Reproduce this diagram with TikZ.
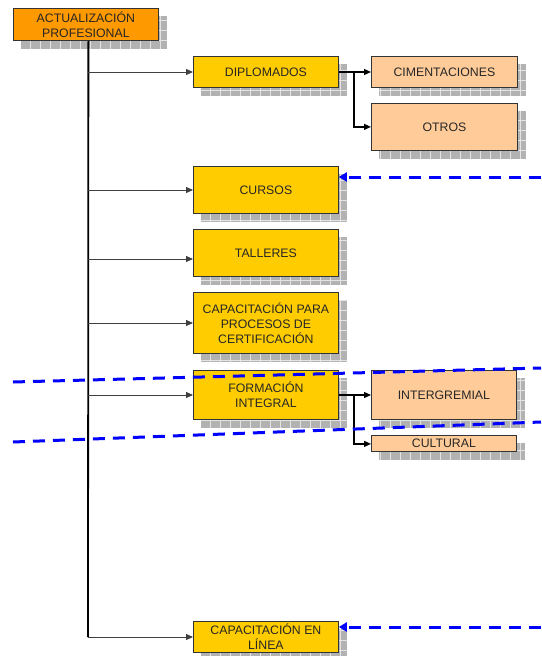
\documentclass[tikz,border=0pt]{standalone}
\usepackage{fontspec}
\setmainfont{Liberation Sans}
\usetikzlibrary{arrows.meta}
\pgfdeclarelayer{background}
\pgfsetlayers{background,main}
\definecolor{orangeF}{RGB}{255,153,0}
\definecolor{goldF}{RGB}{255,204,0}
\definecolor{peachF}{RGB}{255,204,153}
\definecolor{dashblue}{RGB}{0,0,255}

\begin{document}
\begin{tikzpicture}[x=1pt,y=-1pt,
  box/.style={draw=black!80, line width=0.8pt, inner sep=0pt, anchor=north west,
    align=center, font=\fontsize{12.3}{15}\selectfont, text=black!85},
  orangebox/.style={box, fill=orangeF},
  goldbox/.style={box, fill=goldF},
  peachbox/.style={box, fill=peachF},
  shadowfill/.style={fill=gray!60, path picture={
      \draw[gray!22, line width=0.7pt, step=10pt]
        (path picture bounding box.south west) grid (path picture bounding box.north east);}},
  trunk/.style={draw=black, line width=1.8pt},
  branch/.style={draw=black!75, line width=1pt, -{Triangle[length=7pt,width=6pt]}},
  subbranch/.style={draw=black, line width=1.2pt, -{Triangle[length=7pt,width=6pt]}},
  bluedash/.style={draw=dashblue, line width=3pt, dash pattern=on 12pt off 8pt},
  bluearrow/.style={bluedash, -{Triangle[length=8pt,width=9pt]}},
]
\useasboundingbox (0,0) rectangle (541,656);

% boxes
\node[orangebox, minimum width=145pt, minimum height=32pt] (root) at (13,8) {ACTUALIZACIÓN\\PROFESIONAL};
\node[goldbox, minimum width=145pt, minimum height=31pt] (dip) at (193,56) {DIPLOMADOS};
\node[peachbox, minimum width=146pt, minimum height=31pt] (cim) at (371,56) {CIMENTACIONES};
\node[peachbox, minimum width=146pt, minimum height=47pt] (otros) at (371,103) {OTROS};
\node[goldbox, minimum width=145pt, minimum height=47pt] (cursos) at (193,166) {CURSOS};
\node[goldbox, minimum width=145pt, minimum height=47pt] (talleres) at (193,229) {TALLERES};
\node[goldbox, minimum width=145pt, minimum height=61pt] (cert) at (193,292) {CAPACITACIÓN PARA\\PROCESOS DE\\CERTIFICACIÓN};
\node[goldbox, minimum width=145pt, minimum height=49pt] (form) at (193,370) {FORMACIÓN\\INTEGRAL};
\node[peachbox, minimum width=145pt, minimum height=49pt] (inter) at (371,370) {INTERGREMIAL};
\node[peachbox, minimum width=145pt, minimum height=16pt] (cult) at (371,435) {CULTURAL};
\node[goldbox, minimum width=145pt, minimum height=31pt] (linea) at (193,621) {CAPACITACIÓN EN\\LÍNEA};

% checkered drop shadows
\begin{pgfonlayer}{background}
\foreach \n in {root,dip,cim,otros,cursos,talleres,cert,form,inter,cult,linea}
  \path[shadowfill] ([shift={(8,8)}]\n.north west) rectangle ([shift={(8,8)}]\n.south east);
\end{pgfonlayer}

% trunk and its junctions
\coordinate (ttop) at ([xshift=2.5pt]root.south);
\coordinate (j1) at (88,72);
\coordinate (j2) at (88,190);
\coordinate (j3) at (88,259);
\coordinate (j4) at (88,323);
\coordinate (j5) at (88,395);
\coordinate (j6) at (88,637);
\draw[trunk] (ttop) -- (j6);
\draw[branch] (j1) -- (dip.west |- j1);
\draw[branch] (j2) -- (cursos.west |- j2);
\draw[branch] (j3) -- (talleres.west |- j3);
\draw[branch] (j4) -- (cert.west |- j4);
\draw[branch] (j5) -- (form.west |- j5);
\draw[branch] (j6) -- (linea.west |- j6);

% second level
\coordinate (k1) at (354,72);
\coordinate (k2) at (354,395);
\draw[subbranch] (dip.east |- k1) -- (cim.west |- k1);
\draw[subbranch] (k1) |- (otros.west);
\draw[subbranch] (form.east |- k2) -- (inter.west |- k2);
\draw[subbranch] (k2) |- ([yshift=-0.5pt]cult.west);

% dashed blue marks
\coordinate (b1) at (541,177);
\coordinate (b2) at (541,627);
\draw[bluearrow] (b1) -- (cursos.east |- b1);
\draw[bluearrow] (b2) -- (linea.east |- b2);
\coordinate (u1) at (13,382);
\coordinate (u2) at (541,368);
\coordinate (l1) at (13,442);
\coordinate (l2) at (541,422);
\draw[bluedash] (u1) -- (u2);
\draw[bluedash] (l1) -- (l2);
\end{tikzpicture}
\end{document}
